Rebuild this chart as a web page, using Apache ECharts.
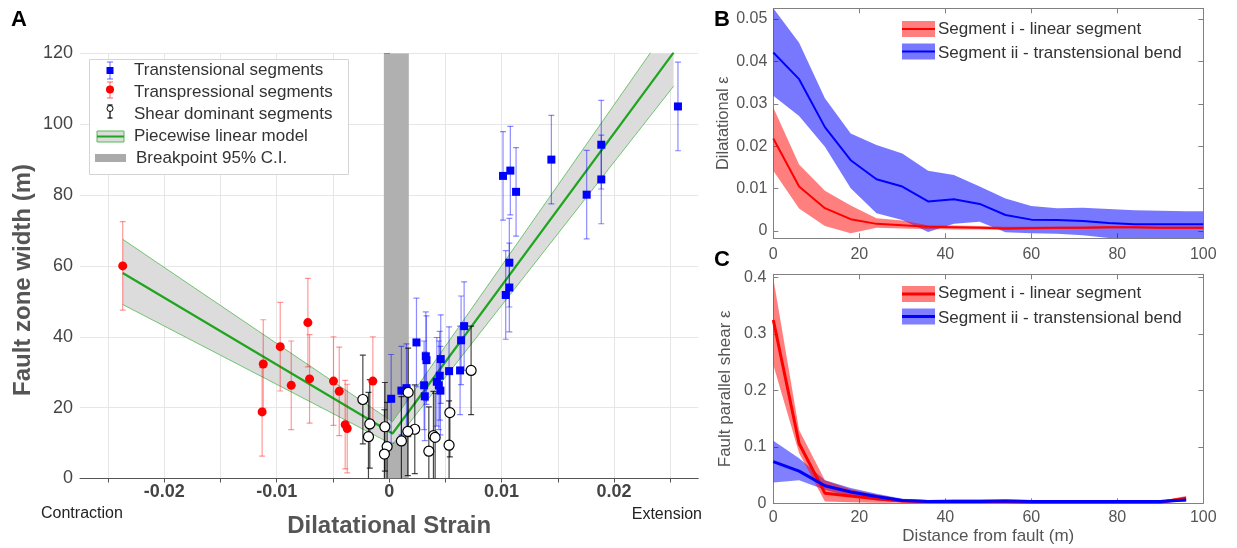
<!DOCTYPE html>
<html><head><meta charset="utf-8">
<script src="https://cdn.jsdelivr.net/npm/echarts@6/dist/echarts.min.js"></script>
<style>html,body{margin:0;padding:0;background:#fff}#c{width:1237px;height:548px}</style>
</head><body><div id="c"></div><script>
// ---------- Panel A data ----------
const transpressionalX = [-0.0237,-0.0112,-0.0113,-0.00969,-0.00871,-0.00723,-0.00708,-0.00495,-0.00444,-0.00391,-0.00373,-0.00145];
const transpressionalY = [60.0,32.3,18.8,37.2,26.3,44.0,28.1,27.5,24.6,15.2,14.1,27.5];
const transpressionalErr = [12.5,12.5,12.5,12.5,12.5,12.5,12.5,12.5,12.5,12.5,12.5,12.5];

const transtensionalX = [0.02569,0.01887,0.01887,0.01757,0.01443,0.01013,0.01078,0.01129,0.01069,0.01069,0.01037,0.00667,0.0064,0.00631,0.00533,0.00459,0.0045,0.00424,0.00442,0.00456,0.00326,0.00332,0.00311,0.00317,0.00243,0.00154,0.00109,0.00018];
const transtensionalY = [105.0,94.2,84.4,80.1,90.0,85.4,86.9,80.9,60.9,53.9,51.8,43.0,39.0,30.5,30.3,33.7,29.0,27.3,26.3,24.8,34.5,33.4,26.3,23.2,38.4,25.5,24.8,22.5];
const transtensionalErr = [12.5,12.5,12.5,12.5,12.5,12.5,12.5,12.5,12.5,12.5,12.5,12.5,12.5,12.5,12.5,12.5,12.5,12.5,12.5,12.5,12.5,12.5,12.5,12.5,12.5,12.5,12.5,12.5];

const shearX = [0.00729,0.0054,0.00533,0.00394,0.00409,0.00353,0.00228,0.00169,0.00166,0.00109,-0.00018,-0.00042,-0.00038,-0.00172,-0.00184,-0.00234];
const shearY = [30.5,18.6,9.4,12.1,11.6,7.7,13.9,24.3,13.3,10.6,9.0,6.9,14.6,15.4,11.8,22.3];
const shearErr = [12.5,12.5,12.5,12.5,12.5,12.5,12.5,12.5,12.5,12.5,12.5,12.5,12.5,12.5,12.5,12.5];

const modelX = [-0.0237, 0.0003, 0.0253];
const modelCenter = [58.0, 12.7, 120.2];
const modelLower = [49.1, 9.6, 110.7];
const modelUpper = [67.5, 16.0, 129.5];
const breakpointCI = [-0.00047, 0.00175];

const xTicksA = [-0.025,-0.02,-0.015,-0.01,-0.005,0,0.005,0.01,0.015,0.02,0.025];
const xLabelsA = [-0.02,-0.01,0,0.01,0.02];

// ---------- Panel B data ----------
const distB = [0,6,12,18,24,30,36,42,48,54,60,66,72,78,84,90,96,100];
const dilRed = [0.0218,0.0105,0.0054,0.0028,0.0017,0.0014,0.0010,0.0009,0.0008,0.0006,0.0007,0.0008,0.0008,0.0009,0.0009,0.0008,0.0008,0.0008];
const dilRedUpper = [0.0291,0.0157,0.0095,0.0060,0.0030,0.0025,0.0014,0.0013,0.0012,0.0010,0.0010,0.0010,0.0011,0.0012,0.0012,0.0011,0.0011,0.0011];
const dilRedLower = [0.0142,0.0053,0.0012,-0.0005,0.0008,0.0006,0.0005,0.0004,0.0004,0.0003,0.0004,0.0005,0.0005,0.0006,0.0006,0.0005,0.0005,0.0005];
const dilBlue = [0.0421,0.0358,0.0245,0.0167,0.0122,0.0105,0.0070,0.0075,0.0064,0.0038,0.0027,0.0026,0.0024,0.0019,0.0016,0.0016,0.0016,0.0016];
const dilBlueUpper = [0.0525,0.0444,0.0313,0.0230,0.0203,0.0183,0.0142,0.0132,0.0105,0.0077,0.0059,0.0054,0.0055,0.0052,0.0049,0.0048,0.0047,0.0047];
const dilBlueLower = [0.0319,0.0271,0.0199,0.0101,0.0042,0.0026,-0.0002,0.0017,0.0022,-0.0003,-0.0005,-0.0006,-0.0010,-0.0016,-0.0018,-0.0018,-0.0018,-0.0018];
const yTicksB = [0,0.01,0.02,0.03,0.04,0.05];

// ---------- Panel C data ----------
const distC = [0,6,12,18,24,30,36,42,48,54,60,66,72,78,84,90,96];
const shRed = [0.325,0.106,0.018,0.013,0.008,0.004,0.003,0.003,0.003,0.003,0.002,0.002,0.002,0.002,0.002,0.002,0.009];
const shRedUpper = [0.399,0.130,0.041,0.025,0.015,0.007,0.005,0.005,0.005,0.005,0.004,0.004,0.004,0.004,0.004,0.004,0.013];
const shRedLower = [0.245,0.089,0.003,0.002,0.001,0.001,0.001,0.001,0.001,0.001,0.001,0.001,0.001,0.001,0.001,0.001,0.004];
const shBlue = [0.074,0.057,0.031,0.020,0.012,0.005,0.003,0.003,0.003,0.004,0.003,0.003,0.003,0.003,0.003,0.003,0.006];
const shBlueUpper = [0.111,0.080,0.041,0.027,0.017,0.008,0.006,0.007,0.007,0.007,0.006,0.006,0.006,0.006,0.006,0.006,0.010];
const shBlueLower = [0.037,0.041,0.024,0.012,0.005,0.002,0.001,0.001,0.001,0.001,0.001,0.001,0.001,0.001,0.001,0.001,0.003];
const yTicksC = [0,0.1,0.2,0.3,0.4];

const FONT = 'Liberation Sans, Arial, sans-serif';
const fmt = v => String(parseFloat(Number(v).toFixed(4)));
const zip = (a, b) => a.map((v, i) => [v, b[i]]);

function errorBars(name, xs, ys, errs, color) {
  return {
    type: 'custom', name, xAxisIndex: 0, yAxisIndex: 0, clip: true, silent: true, z: 4,
    data: xs.map((x, i) => [x, ys[i] - errs[i], ys[i] + errs[i]]),
    encode: {x: 0, y: [1, 2]},
    renderItem: (params, api) => {
      const x = api.value(0);
      const lo = api.coord([x, api.value(1)]);
      const hi = api.coord([x, api.value(2)]);
      const w = 3;
      const st = {stroke: color, lineWidth: 1.2};
      return {type: 'group', children: [
        {type: 'line', shape: {x1: lo[0], y1: lo[1], x2: hi[0], y2: hi[1]}, style: st},
        {type: 'line', shape: {x1: lo[0] - w, y1: lo[1], x2: lo[0] + w, y2: lo[1]}, style: st},
        {type: 'line', shape: {x1: hi[0] - w, y1: hi[1], x2: hi[0] + w, y2: hi[1]}, style: st}
      ]};
    }
  };
}

function band(xi, yi, xs, lo, hi, fill, z) {
  return {
    type: 'custom', xAxisIndex: xi, yAxisIndex: yi, clip: true, silent: true, z,
    data: xs.map((x, i) => [x, lo[i], hi[i]]),
    encode: {x: 0, y: [1, 2]},
    renderItem: (params, api) => {
      if (params.dataIndex !== 0) return null;
      const pts = [];
      for (let i = 0; i < xs.length; i++) pts.push(api.coord([xs[i], hi[i]]));
      for (let i = xs.length - 1; i >= 0; i--) pts.push(api.coord([xs[i], lo[i]]));
      const cs = params.coordSys;
      return {type: 'polygon', shape: {points: pts}, style: {fill},
        clipPath: {type: 'rect', shape: {x: cs.x, y: cs.y, width: cs.width, height: cs.height}}};
    }
  };
}

function lineS(xi, yi, xs, ys, color, width, z, name) {
  return {type: 'line', name, xAxisIndex: xi, yAxisIndex: yi, data: zip(xs, ys), symbol: 'none',
    clip: true, silent: true, z, lineStyle: {color, width}, itemStyle: {color}};
}

const boxAxisB = {
  axisLine: {show: true, onZero: false, lineStyle: {color: '#808080'}},
  axisTick: {show: true, inside: true, length: 5, lineStyle: {color: '#808080'}},
  splitLine: {show: false}
};

const option = {
  animation: false,
  textStyle: {fontFamily: FONT},
  grid: [
    {left: 80, top: 53.3, width: 618.3, height: 425.2},
    {left: 773.3, top: 8.3, width: 430, height: 230},
    {left: 773.3, top: 274.3, width: 430, height: 229}
  ],
  xAxis: [
    {gridIndex: 0, type: 'value', min: -0.0275, max: 0.0275,
      name: 'Dilatational Strain', nameLocation: 'middle', nameGap: 36,
      nameTextStyle: {fontSize: 24, fontWeight: 'bold', color: '#555', fontFamily: FONT},
      axisLine: {show: true, onZero: false, lineStyle: {color: '#555'}},
      axisTick: {show: true, length: 4, customValues: xTicksA, lineStyle: {color: '#555'}},
      axisLabel: {customValues: xLabelsA, formatter: fmt, fontSize: 18, fontWeight: 'bold', color: '#444', margin: 5, fontFamily: FONT},
      splitLine: {show: true, lineStyle: {color: '#e6e6e6'}}},
    Object.assign({gridIndex: 1, type: 'value', min: 0, max: 100, interval: 20, position: 'bottom',
      axisLabel: {fontSize: 16, color: '#555', margin: 8, fontFamily: FONT}}, boxAxisB),
    Object.assign({gridIndex: 1, type: 'value', min: 0, max: 100, interval: 20, position: 'top',
      axisLabel: {show: false}}, boxAxisB),
    Object.assign({gridIndex: 2, type: 'value', min: 0, max: 100, interval: 20, position: 'bottom',
      name: 'Distance from fault (m)', nameLocation: 'middle', nameGap: 25,
      nameTextStyle: {fontSize: 17, color: '#555', fontFamily: FONT},
      axisLabel: {fontSize: 16, color: '#555', margin: 6, fontFamily: FONT}}, boxAxisB),
    Object.assign({gridIndex: 2, type: 'value', min: 0, max: 100, interval: 20, position: 'top',
      axisLabel: {show: false}}, boxAxisB)
  ],
  yAxis: [
    {gridIndex: 0, type: 'value', min: 0, max: 120, interval: 20,
      axisLine: {show: true, lineStyle: {color: '#555'}},
      axisTick: {show: true, length: 5, lineStyle: {color: '#555'}},
      axisLabel: {fontSize: 18, color: '#444', margin: 7, fontFamily: FONT},
      splitLine: {show: true, lineStyle: {color: '#e6e6e6'}}},
    Object.assign({gridIndex: 1, type: 'value', min: -0.0017, max: 0.0525, position: 'left',
      name: 'Dilatational ε', nameLocation: 'middle', nameGap: 39,
      nameTextStyle: {color: '#555', fontSize: 16.5, fontFamily: FONT},
      axisLabel: {customValues: yTicksB, formatter: fmt, fontSize: 16, color: '#555', margin: 6, fontFamily: FONT}}, boxAxisB,
      {axisTick: {show: true, inside: true, length: 5, customValues: yTicksB, lineStyle: {color: '#808080'}}}),
    Object.assign({gridIndex: 1, type: 'value', min: -0.0017, max: 0.0525, position: 'right',
      axisLabel: {show: false}}, boxAxisB,
      {axisTick: {show: true, inside: true, length: 5, customValues: yTicksB, lineStyle: {color: '#808080'}}}),
    Object.assign({gridIndex: 2, type: 'value', min: 0, max: 0.406, position: 'left',
      name: 'Fault parallel shear ε', nameLocation: 'middle', nameGap: 39,
      nameTextStyle: {color: '#555', fontSize: 17, fontFamily: FONT},
      axisLabel: {customValues: yTicksC, formatter: fmt, fontSize: 16, color: '#555', margin: 7, fontFamily: FONT}}, boxAxisB,
      {axisTick: {show: true, inside: true, length: 5, customValues: yTicksC, lineStyle: {color: '#808080'}}}),
    Object.assign({gridIndex: 2, type: 'value', min: 0, max: 0.406, position: 'right',
      axisLabel: {show: false}}, boxAxisB,
      {axisTick: {show: true, inside: true, length: 5, customValues: yTicksC, lineStyle: {color: '#808080'}}})
  ],
  series: [
    // Panel A
    {type: 'custom', name: 'Breakpoint 95% C.I.', xAxisIndex: 0, yAxisIndex: 0, silent: true, z: 1, clip: true,
      data: [[breakpointCI[0], breakpointCI[1]]], encode: {x: [0, 1]},
      renderItem: (params, api) => {
        const cs = params.coordSys;
        const a = api.coord([api.value(0), 0]);
        const b = api.coord([api.value(1), 0]);
        return {type: 'rect', shape: {x: a[0], y: cs.y, width: b[0] - a[0], height: cs.height}, style: {fill: '#b0b0b0'}};
      }},
    band(0, 0, modelX, modelLower, modelUpper, '#dcdcdc', 2),
    lineS(0, 0, modelX, modelUpper, 'rgba(60,180,60,0.7)', 1, 3),
    lineS(0, 0, modelX, modelLower, 'rgba(60,180,60,0.7)', 1, 3),
    lineS(0, 0, modelX, modelCenter, '#1fa51f', 2.2, 3, 'Piecewise linear model'),
    errorBars('tpErr', transpressionalX, transpressionalY, transpressionalErr, 'rgba(255,0,0,0.4)'),
    errorBars('ttErr', transtensionalX, transtensionalY, transtensionalErr, 'rgba(0,0,255,0.45)'),
    errorBars('shErr', shearX, shearY, shearErr, 'rgba(0,0,0,0.72)'),
    {type: 'scatter', name: 'Transpressional segments', xAxisIndex: 0, yAxisIndex: 0, z: 5, silent: true,
      data: zip(transpressionalX, transpressionalY), symbol: 'circle', symbolSize: 9, itemStyle: {color: '#ff0000', opacity: 1}},
    {type: 'scatter', name: 'Transtensional segments', xAxisIndex: 0, yAxisIndex: 0, z: 5, silent: true,
      data: zip(transtensionalX, transtensionalY), symbol: 'rect', symbolSize: 8, itemStyle: {color: '#0000ff', opacity: 1}},
    {type: 'scatter', name: 'Shear dominant segments', xAxisIndex: 0, yAxisIndex: 0, z: 6, silent: true,
      data: zip(shearX, shearY), symbol: 'circle', symbolSize: 10, itemStyle: {color: '#ffffff', borderColor: '#000', borderWidth: 1.2, opacity: 1}},
    // Panel B
    band(1, 1, distB, dilBlueLower, dilBlueUpper, 'rgba(0,0,255,0.53)', 2),
    band(1, 1, distB, dilRedLower, dilRedUpper, 'rgba(255,0,0,0.5)', 2),
    lineS(1, 1, distB, dilRed, '#ff0000', 2, 3, 'Segment i - linear segment'),
    lineS(1, 1, distB, dilBlue, '#0000ff', 2, 3, 'Segment ii - transtensional bend'),
    // Panel C
    band(3, 3, distC, shBlueLower, shBlueUpper, 'rgba(0,0,255,0.5)', 2),
    band(3, 3, distC, shRedLower, shRedUpper, 'rgba(255,0,0,0.5)', 2),
    lineS(3, 3, distC, shRed, '#ff0000', 3, 3, 'Segment i - linear segment'),
    lineS(3, 3, distC, shBlue, '#0000ff', 3, 4, 'Segment ii - transtensional bend')
  ],
  graphic: [
    // panel letters
    {type: 'text', x: 11, y: 9, z: 100, style: {text: 'A', font: 'bold 22px ' + FONT, fill: '#000'}},
    {type: 'text', x: 714, y: 9, z: 100, style: {text: 'B', font: 'bold 22px ' + FONT, fill: '#000'}},
    {type: 'text', x: 714, y: 249, z: 100, style: {text: 'C', font: 'bold 22px ' + FONT, fill: '#000'}},
    // axis title A (y)
    {type: 'text', x: 23, y: 280, rotation: Math.PI / 2, z: 100,
      style: {text: 'Fault zone width (m)', font: 'bold 24px ' + FONT, fill: '#555', align: 'center', verticalAlign: 'middle'}},
    {type: 'text', x: 41, y: 514, z: 100, style: {text: 'Contraction', font: '16px ' + FONT, fill: '#222', verticalAlign: 'middle'}},
    {type: 'text', x: 702, y: 515, z: 100, style: {text: 'Extension', font: '16px ' + FONT, fill: '#222', align: 'right', verticalAlign: 'middle'}},
    // legend A
    {type: 'rect', z: 100, shape: {x: 89.5, y: 59.5, width: 259, height: 115}, style: {fill: '#fff', stroke: '#d4d4d4', lineWidth: 1}},
    {type: 'line', z: 101, shape: {x1: 110, y1: 62, x2: 110, y2: 79}, style: {stroke: 'rgba(0,0,255,0.5)', lineWidth: 1.2}},
    {type: 'line', z: 101, shape: {x1: 107, y1: 62, x2: 113, y2: 62}, style: {stroke: 'rgba(0,0,255,0.5)', lineWidth: 1.2}},
    {type: 'line', z: 101, shape: {x1: 107, y1: 79, x2: 113, y2: 79}, style: {stroke: 'rgba(0,0,255,0.5)', lineWidth: 1.2}},
    {type: 'rect', z: 102, shape: {x: 106.5, y: 67, width: 7, height: 7}, style: {fill: '#0000ff'}},
    {type: 'line', z: 101, shape: {x1: 110, y1: 82, x2: 110, y2: 98}, style: {stroke: 'rgba(255,0,0,0.5)', lineWidth: 1.2}},
    {type: 'line', z: 101, shape: {x1: 107, y1: 82, x2: 113, y2: 82}, style: {stroke: 'rgba(255,0,0,0.5)', lineWidth: 1.2}},
    {type: 'line', z: 101, shape: {x1: 107, y1: 98, x2: 113, y2: 98}, style: {stroke: 'rgba(255,0,0,0.5)', lineWidth: 1.2}},
    {type: 'circle', z: 102, shape: {cx: 110, cy: 89.5, r: 4}, style: {fill: '#ff0000'}},
    {type: 'line', z: 101, shape: {x1: 110, y1: 105, x2: 110, y2: 118}, style: {stroke: '#000', lineWidth: 1.2}},
    {type: 'line', z: 101, shape: {x1: 107.5, y1: 105, x2: 112.5, y2: 105}, style: {stroke: '#000', lineWidth: 1.2}},
    {type: 'line', z: 101, shape: {x1: 107.5, y1: 118, x2: 112.5, y2: 118}, style: {stroke: '#000', lineWidth: 1.2}},
    {type: 'circle', z: 102, shape: {cx: 110, cy: 108.5, r: 3}, style: {fill: '#fff', stroke: '#000', lineWidth: 1}},
    {type: 'rect', z: 101, shape: {x: 97, y: 131, width: 27, height: 11}, style: {fill: '#dcdcdc', stroke: '#55bb55', lineWidth: 1}},
    {type: 'line', z: 102, shape: {x1: 97, y1: 136.5, x2: 124, y2: 136.5}, style: {stroke: '#1fa51f', lineWidth: 2}},
    {type: 'rect', z: 101, shape: {x: 95, y: 154, width: 31, height: 8}, style: {fill: '#aaaaaa'}},
    {type: 'text', z: 102, x: 134, y: 70, style: {text: 'Transtensional segments', font: '17px ' + FONT, fill: '#333', verticalAlign: 'middle'}},
    {type: 'text', z: 102, x: 134, y: 92, style: {text: 'Transpressional segments', font: '17px ' + FONT, fill: '#333', verticalAlign: 'middle'}},
    {type: 'text', z: 102, x: 134, y: 114, style: {text: 'Shear dominant segments', font: '17px ' + FONT, fill: '#333', verticalAlign: 'middle'}},
    {type: 'text', z: 102, x: 134, y: 136, style: {text: 'Piecewise linear model', font: '17px ' + FONT, fill: '#333', verticalAlign: 'middle'}},
    {type: 'text', z: 102, x: 136, y: 158, style: {text: 'Breakpoint 95% C.I.', font: '17px ' + FONT, fill: '#333', verticalAlign: 'middle'}},
    // legend B
    {type: 'rect', z: 101, shape: {x: 902, y: 21, width: 33, height: 16}, style: {fill: 'rgba(255,0,0,0.5)'}},
    {type: 'line', z: 102, shape: {x1: 902, y1: 29, x2: 935, y2: 29}, style: {stroke: '#ff0000', lineWidth: 2}},
    {type: 'rect', z: 101, shape: {x: 902, y: 43.5, width: 33, height: 16}, style: {fill: 'rgba(0,0,255,0.53)'}},
    {type: 'line', z: 102, shape: {x1: 902, y1: 51.5, x2: 935, y2: 51.5}, style: {stroke: '#0000ff', lineWidth: 2}},
    {type: 'text', z: 102, x: 938, y: 29.5, style: {text: 'Segment i - linear segment', font: '17px ' + FONT, fill: '#333', verticalAlign: 'middle'}},
    {type: 'text', z: 102, x: 938, y: 53, style: {text: 'Segment ii - transtensional bend', font: '17px ' + FONT, fill: '#333', verticalAlign: 'middle'}},
    // legend C
    {type: 'rect', z: 101, shape: {x: 902, y: 286, width: 33, height: 16}, style: {fill: 'rgba(255,0,0,0.5)'}},
    {type: 'line', z: 102, shape: {x1: 902, y1: 294, x2: 935, y2: 294}, style: {stroke: '#ff0000', lineWidth: 3}},
    {type: 'rect', z: 101, shape: {x: 902, y: 308.5, width: 33, height: 16}, style: {fill: 'rgba(0,0,255,0.5)'}},
    {type: 'line', z: 102, shape: {x1: 902, y1: 316.5, x2: 935, y2: 316.5}, style: {stroke: '#0000ff', lineWidth: 3}},
    {type: 'text', z: 102, x: 938, y: 293.5, style: {text: 'Segment i - linear segment', font: '17px ' + FONT, fill: '#333', verticalAlign: 'middle'}},
    {type: 'text', z: 102, x: 938, y: 318, style: {text: 'Segment ii - transtensional bend', font: '17px ' + FONT, fill: '#333', verticalAlign: 'middle'}}
  ]
};
const chart = echarts.init(document.getElementById('c'), null, {renderer: 'canvas'});
chart.setOption(option);
</script></body></html>
